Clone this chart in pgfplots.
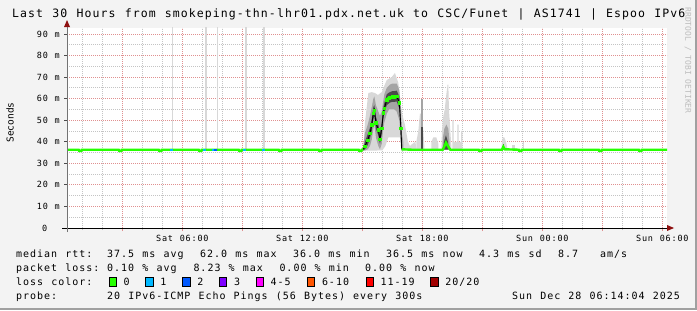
\documentclass[border=0pt]{standalone}
\usepackage{pgfplots}
\pgfplotsset{compat=1.18}
\usepackage{fontspec}
\setmainfont{DejaVu Sans Mono}
\newfontfamily\rrdf{DejaVu Sans Mono}[LetterSpace=9.8,WordSpace=1.163]
\newfontfamily\rrdaxisf{DejaVu Sans Mono}[LetterSpace=9.2,WordSpace=1.15]
\newfontfamily\rrdtitlef{DejaVu Sans Mono}[LetterSpace=9.4,WordSpace=1.156]
\newfontfamily\rrdplain{DejaVu Sans Mono}
\newcommand\txt{\rrdf\fontsize{10bp}{12bp}\selectfont}
\newcommand\axf{\rrdaxisf\fontsize{8.5bp}{10bp}\selectfont}
\newcommand\ttl{\rrdtitlef\fontsize{11.5bp}{14bp}\selectfont}

\definecolor{bg}{HTML}{F3F3F3}
\definecolor{frameD}{HTML}{A0A0A0}
\definecolor{mgrid}{HTML}{E09090}
\definecolor{mingrid}{HTML}{C4C4C4}
\definecolor{arrowc}{HTML}{8E1010}
\definecolor{loss0}{HTML}{26FF00}
\definecolor{loss1}{HTML}{00B8FF}
\definecolor{loss2}{HTML}{0059FF}
\definecolor{loss3}{HTML}{7E00FF}
\definecolor{loss45}{HTML}{FF00FF}
\definecolor{loss610}{HTML}{FF5500}
\definecolor{loss1119}{HTML}{FF0000}
\definecolor{loss20}{HTML}{A10000}
\definecolor{smokeA}{HTML}{D8D8D8}
\definecolor{smokeB}{HTML}{A4A4A4}
\definecolor{smokeC}{HTML}{4A4A4A}
\definecolor{wmark}{HTML}{BDBDBD}

\begin{document}
\begin{tikzpicture}[x=1bp,y=1bp]
\fill[bg] (0,0) rectangle (697,310);
\fill[frameD] (0,0) rectangle (697,2);
\fill[frameD] (695,0) rectangle (697,310);

\begin{axis}[
  at={(67bp,82bp)}, anchor=south west,
  scale only axis, width=600bp, height=200bp,
  xmin=0.2333, xmax=30.2333, ymin=0, ymax=92.77,
  axis background/.style={fill=white},
  axis line style={draw=none},
  xtick pos=bottom, ytick pos=left,
  tick align=outside,
  xtick={3,6,...,30},
  xticklabels={{},{Sat 06:00},{},{Sat 12:00},{},{Sat 18:00},{},{Sun 00:00},{},{Sun 06:00}},
  minor xtick={1,2,...,30},
  ytick={0,10,...,90},
  yticklabels={{\makebox[17.7bp][l]{0}},{10 m},{20 m},{30 m},{40 m},{50 m},{60 m},{70 m},{80 m},{90 m}},
  minor ytick={5,15,...,85},
  grid=both,
  major grid style={mgrid, dash pattern=on 1bp off 1bp, line width=0.8bp},
  minor grid style={mingrid, dash pattern=on 1bp off 1bp, line width=0.8bp},
  major x tick style={mgrid, line width=0.8bp},
  minor x tick style={mingrid, line width=0.8bp},
  major y tick style={black!70, line width=0.8bp},
  minor y tick style={draw=none},
  major tick length=3bp, minor tick length=2bp,
  xticklabel style={font=\axf, anchor=north, inner sep=0pt, yshift=-4bp},
  yticklabel style={font=\axf, anchor=east, inner sep=0pt, xshift=-4bp},
]
% ---- smoke: bump, light outer layer
\addplot[fill=smokeA, draw=none] coordinates {
 (14.98,36.3)(15.05,37)(15.13,48.7)(15.30,62.6)(15.47,63)(15.63,62.6)(15.78,61.7)(15.97,63)
 (16.10,66)(16.22,68.6)(16.47,70)(16.63,71.9)(16.80,67.3)(16.97,53.8)(17.13,47.8)(17.28,40)
 (17.38,38)(17.50,39)(17.65,40)(17.72,36.3)
 (17.00,36.0)(16.95,36.0)(16.90,42)(16.30,42)(16.15,38)(16.00,36)(15.00,35.8)} -- cycle;
% medium layer
\addplot[fill=smokeB, draw=none] coordinates {
 (15.05,38)(15.13,44)(15.27,48)(15.38,52)(15.47,56)(15.55,60)(15.60,61)(15.68,57)(15.80,54)
 (15.88,52)(15.97,54)(16.05,59)(16.10,62)(16.22,65)(16.33,66)(16.38,66.5)(16.50,67)(16.60,67)
 (16.72,67)(16.85,64)(16.93,55)(16.97,44)(17.05,40)
 (17.05,36)(16.97,36)(16.93,38)(16.85,50)(16.72,54)(16.60,55)(16.50,55)(16.38,55)(16.33,55)
 (16.22,53)(16.10,49)(16.05,46)(15.97,39)(15.88,36.5)(15.80,38)(15.68,42)(15.60,48)(15.55,46)
 (15.47,41)(15.38,38)(15.27,36.5)(15.13,36)(15.05,36)} -- cycle;
% dark core
\addplot[fill=smokeC, draw=none] coordinates {
 (15.05,37)(15.13,40)(15.27,43.5)(15.38,46.5)(15.47,50.5)(15.55,56)(15.60,57)(15.68,51.5)
 (15.80,48)(15.88,44)(15.97,49)(16.05,56)(16.10,58)(16.22,62)(16.33,62.8)(16.38,63)(16.50,63.5)
 (16.60,63.5)(16.72,63.7)(16.85,61)(16.93,50)(16.97,38)
 (16.97,36)(16.93,42)(16.85,55.5)(16.72,58.7)(16.60,58.5)(16.50,58.5)(16.38,58.2)(16.33,57.8)
 (16.22,57)(16.10,53)(16.05,51)(15.97,43.5)(15.88,39)(15.80,43)(15.68,46)(15.60,52)(15.55,50.5)
 (15.47,45)(15.38,41.5)(15.27,38.5)(15.13,36.5)(15.05,36)} -- cycle;
% ---- later smoke
\addplot[fill=smokeA, draw=none] coordinates {(17.70,36.3)(17.70,40)(17.80,45)(17.88,53)(17.96,53)(18.05,45)(18.10,38)(18.10,36.3)} -- cycle;
\addplot[fill=smokeB, draw=none] coordinates {(17.95,36.3)(17.95,60)(18.04,60)(18.04,36.3)} -- cycle;
\addplot[fill=smokeC, draw=none] coordinates {(17.95,36.3)(17.95,47)(18.04,47)(18.04,36.3)} -- cycle;
\addplot[fill=smokeA, draw=none] coordinates {(18.45,36.3)(18.45,40)(18.55,42)(18.70,42)(18.80,39)(18.80,36.3)} -- cycle;
\addplot[fill=smokeA, draw=none] coordinates {(18.95,36.3)(18.98,45)(19.05,52)(19.12,55)(19.20,62)(19.26,66.5)(19.30,66.5)(19.33,55)(19.40,45)(19.45,38)(19.45,36.3)} -- cycle;
\addplot[fill=smokeB, draw=none] coordinates {(19.00,36.3)(19.03,42)(19.10,46)(19.20,48)(19.30,46)(19.36,40)(19.38,36.3)} -- cycle;
\addplot[fill=smokeC, draw=none] coordinates {(19.05,36.3)(19.08,40)(19.18,43)(19.28,40)(19.32,36.3)} -- cycle;
\addplot[fill=smokeA, draw=none] coordinates {(19.50,36.3)(19.50,50)(19.56,50)(19.56,40)(19.75,40)(19.75,48)(19.81,48)(19.81,40)(19.94,40)(19.94,45)(20.00,45)(20.00,36.3)} -- cycle;
\addplot[fill=smokeA, draw=none] coordinates {(21.95,36.3)(21.98,40)(22.03,42)(22.10,42)(22.18,40)(22.25,37)(22.25,36.3)} -- cycle;
\addplot[fill=smokeC, draw=none] coordinates {(22.02,36.3)(22.02,39)(22.08,39)(22.08,36.3)} -- cycle;
\addplot[fill=smokeA, draw=none] coordinates {(22.48,36.3)(22.48,38.5)(22.63,38.5)(22.63,36.3)} -- cycle;
\addplot[fill=smokeA, draw=none] coordinates {(23.03,36.3)(23.03,40)(23.10,40)(23.10,36.3)} -- cycle;
% ---- isolated spikes (loss events)
\addplot[fill=smokeA, draw=none] coordinates {(5.49,36.3)(5.49,95)(5.55,95)(5.55,36.3)} -- cycle;
\addplot[fill=smokeA, draw=none] coordinates {(7.12,36.3)(7.12,95)(7.22,95)(7.22,36.3)} -- cycle;
\addplot[fill=smokeA, draw=none] coordinates {(7.74,36.3)(7.74,95)(7.80,95)(7.80,36.3)} -- cycle;
\addplot[fill=smokeA, draw=none] coordinates {(9.13,36.3)(9.13,95)(9.23,95)(9.23,36.3)} -- cycle;
\addplot[fill=smokeA, draw=none] coordinates {(10.02,36.3)(10.02,95)(10.12,95)(10.12,36.3)} -- cycle;
% ---- median rtt
\addplot[loss0, line width=2.4bp] coordinates {
 (0.2333,36.3)(0.82,36.3)(0.84,35.8)(0.95,35.8)(0.97,36.3)
 (2.82,36.3)(2.84,35.8)(2.95,35.8)(2.97,36.3)
 (4.82,36.3)(4.84,35.8)(4.95,35.8)(4.97,36.3)
 (6.82,36.3)(6.84,35.8)(6.95,35.8)(6.97,36.3)
 (8.82,36.3)(8.84,35.8)(8.95,35.8)(8.97,36.3)
 (10.82,36.3)(10.84,35.8)(10.95,35.8)(10.97,36.3)
 (12.82,36.3)(12.84,35.8)(12.95,35.8)(12.97,36.3)
 (14.82,36.3)(14.84,35.8)(14.95,35.8)(14.97,36.3)(15.05,36.5)};
\addplot[black, line width=0.9bp] coordinates {
 (15.05,36.5)(15.13,38.0)(15.27,40.8)(15.38,43.9)(15.47,47.8)(15.55,53.2)(15.60,54.7)(15.68,48.8)
 (15.80,45.5)(15.88,41.1)(15.97,46.2)(16.05,53.5)(16.10,55.5)(16.22,59.4)(16.33,60.2)(16.38,60.6)
 (16.50,61.0)(16.60,61.0)(16.72,61.2)(16.85,58.1)(16.93,46.2)(16.97,36.5)};
\addplot[only marks, mark=square*, mark size=1.3bp, loss0, mark options={draw=loss0}] coordinates {
 (15.13,38.0)(15.27,40.8)(15.38,43.9)(15.47,47.8)(15.55,53.2)(15.60,54.7)(15.68,48.8)
 (15.80,45.5)(15.88,41.1)(15.97,46.2)(16.05,53.5)(16.10,55.5)(16.22,59.4)(16.33,60.2)(16.38,60.6)
 (16.50,61.0)(16.60,61.0)(16.72,61.2)(16.85,58.1)(16.93,46.2)};
\addplot[loss0, line width=2.4bp] coordinates {
 (16.97,36.5)(17.50,36.3)(19.02,36.3)(19.08,37.4)(19.18,39.6)(19.32,37.4)(19.40,36.3)
 (20.82,36.3)(20.84,35.8)(20.95,35.8)(20.97,36.3)
 (21.98,36.3)(22.05,37.7)(22.12,36.5)
 (22.82,36.3)(22.84,35.8)(22.95,35.8)(22.97,36.3)
 (24.82,36.3)(24.84,35.8)(24.95,35.8)(24.97,36.3)
 (26.82,36.3)(26.84,35.8)(26.95,35.8)(26.97,36.3)
 (28.82,36.3)(28.84,35.8)(28.95,35.8)(28.97,36.3)(30.2333,36.3)};
% loss-coloured pieces of the median
\addplot[loss1, line width=2.4bp] coordinates {(5.36,36.3)(5.51,36.3)};
\addplot[loss1, line width=2.4bp] coordinates {(7.03,36.3)(7.18,36.3)};
\addplot[loss1, line width=2.4bp] coordinates {(7.48,36.3)(7.60,36.3)};
\addplot[loss2, line width=2.4bp] coordinates {(7.60,36.3)(7.72,36.3)};
\addplot[loss1, line width=2.4bp] coordinates {(9.03,36.3)(9.18,36.3)};
\addplot[loss1, line width=2.4bp] coordinates {(9.96,36.3)(10.11,36.3)};
\end{axis}

% axis lines and arrows
\draw[black, line width=1bp] (62,82) -- (668,82);
\fill[arrowc] (667,79) -- (674,82) -- (667,85) -- cycle;
\draw[black!55, line width=1bp] (67,78) -- (67,284);
\fill[arrowc] (64,283) -- (67,290) -- (70,283) -- cycle;

% title and side texts
\node[anchor=base west, inner sep=0pt] at (12,293) {\ttl Last 30 Hours from smokeping-thn-lhr01.pdx.net.uk to CSC/Funet | AS1741 | Espoo IPv6};
\node[rotate=90, inner sep=0pt] at (10,187.5) {\rrdplain\fontsize{9.5bp}{11bp}\selectfont Seconds};
\node[rotate=-90, inner sep=0pt, text=wmark] at (688,249.5) {\rrdplain\fontsize{8bp}{9bp}\selectfont RRDTOOL / TOBI OETIKER};

% legend rows
\begin{scope}[every node/.style={anchor=base west, inner sep=0pt, font=\txt}]
\node at (16,52.3) {median rtt:};
\node at (107,52.3) {37.5 ms avg};
\node at (200,52.3) {62.0 ms max};
\node at (293,52.3) {36.0 ms min};
\node at (386,52.3) {36.5 ms now};
\node at (479,52.3) {4.3 ms sd};
\node at (558,52.3) {8.7};
\node at (600,52.3) {am/s};
\node at (16,38.3) {packet loss:};
\node at (107,38.3) {0.10 \% avg};
\node at (193.3,38.3) {8.23 \% max};
\node at (279.3,38.3) {0.00 \% min};
\node at (365,38.3) {0.00 \% now};
\node at (16,24.5) {loss color:};
\node at (123.5,24.5) {0};
\node at (160.2,24.5) {1};
\node at (197.2,24.5) {2};
\node at (233.8,24.5) {3};
\node at (270.5,24.5) {4-5};
\node at (321.8,24.5) {6-10};
\node at (380.5,24.5) {11-19};
\node at (445.2,24.5) {20/20};
\node at (16,11) {probe:};
\node at (107,11) {20 IPv6-ICMP Echo Pings (56 Bytes) every 300s};
\node[anchor=base east] at (680,11) {Sun Dec 28 06:14:04 2025};
\end{scope}
\foreach \bx/\bc in {109/loss0,145.7/loss1,182.7/loss2,219.3/loss3,256/loss45,307.3/loss610,366/loss1119,430.7/loss20}{
  \filldraw[fill=\bc, draw=black, line width=0.8bp] (\bx,23.5) rectangle ++(7.5,9);
}
\end{tikzpicture}
\end{document}
